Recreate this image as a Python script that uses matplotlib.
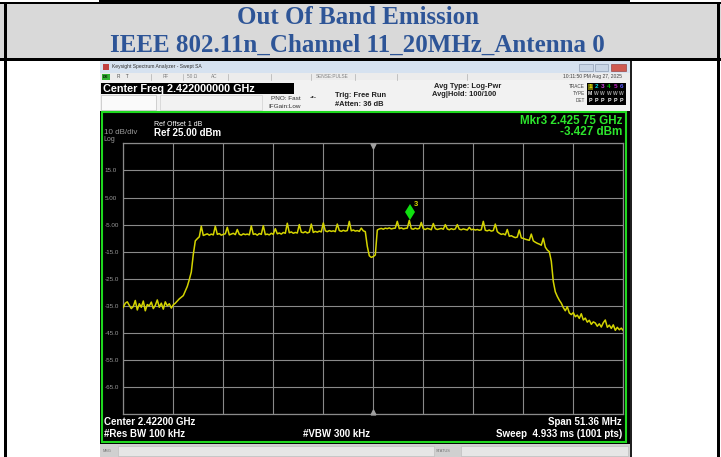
import numpy as np
import matplotlib.pyplot as plt
from matplotlib.patches import Rectangle
from matplotlib.transforms import offset_copy

# analyzer settings
center_mhz = 2422.0
span_mhz = 51.36
ref_level = 25.0
db_per_div = 10
n_div = 10

# trace 1, log-pwr average left to right
level_dbm = [
    -35.5, -34.0, -33.5, -34.8, -36.0, -35.2, -33.0, -36.5, -34.2, -35.5,
    -33.2, -36.8, -34.5, -35.0, -33.6, -36.0, -34.8, -32.8, -35.5, -34.0,
    -36.2, -33.5, -35.0, -34.2, -35.8, -34.6,
    -34.0, -33.2, -32.4, -31.8, -31.2, -29.5, -27.8, -25.3, -22.5, -16.0,
    -11.0, -10.2, -9.5, -5.6,
    -9.0, -8.7, -8.4, -8.9, -8.5, -8.8, -5.6, -8.6, -8.3, -8.9,
    -8.6, -8.4, -6.0, -8.8, -8.5, -8.2, -8.7, -6.8, -8.6, -8.9,
    -8.4, -8.7, -8.5, -8.8, -5.5, -8.6, -8.4, -8.9, -8.3, -8.6,
    -5.4, -8.7, -8.5, -8.8, -8.2, -8.6, -6.5, -8.4, -8.1, -8.5,
    -7.9, -8.2, -4.5, -8.0, -7.7, -8.2, -7.9, -8.1, -5.0, -7.8,
    -8.0, -7.6, -8.1, -7.8, -4.8, -7.9, -7.5, -7.8, -7.4, -7.7,
    -4.4, -7.3, -7.6, -7.2, -7.5, -7.3, -7.6, -4.8, -7.2, -7.5,
    -7.1, -7.4, -7.2, -3.8, -7.3, -7.0, -7.4, -7.2, -7.5, -6.3,
    -7.3, -7.6,
    -13.0, -16.5, -17.1, -16.8, -16.2, -7.0,
    -6.6, -6.4, -6.7, -6.3, -6.5, -6.2, -6.6, -6.4, -6.3, -3.8,
    -6.5, -6.2, -6.6, -6.4, -6.3, -3.43, -6.5, -6.7, -6.3, -6.6,
    -6.4, -4.2, -6.5, -6.8, -6.4, -6.6, -6.9, -4.6, -6.5, -6.8,
    -6.6, -6.4, -6.7, -5.0, -6.6, -6.9, -6.5, -6.8, -6.6, -5.0,
    -6.7, -6.9, -6.6, -6.8, -7.0, -6.0, -6.9, -6.7, -7.0, -6.8,
    -7.1, -6.9, -3.8, -7.1, -7.3, -7.0, -7.4, -7.2, -4.8, -7.6,
    -8.2, -8.6, -8.4, -8.8, -6.8, -9.3, -9.1, -9.5, -9.8, -9.6,
    -7.0, -9.9, -10.1, -10.4, -10.6, -10.8, -8.5, -11.0, -11.5, -11.9,
    -12.2, -12.6, -10.0, -13.3, -14.4, -15.0, -18.5, -26.0, -29.8, -31.5,
    -32.9, -34.0, -35.6, -36.8, -35.3, -37.6, -38.2, -37.5, -39.0, -38.4,
    -39.6, -37.9, -40.2, -39.5, -41.0, -40.3, -41.8, -40.9, -41.3, -42.5,
    -41.6, -42.8, -41.2, -40.2, -42.9, -42.1, -43.3, -42.0, -44.0, -42.9,
    -43.8, -43.2, -44.1,
]

# marker 3
mkr_freq_mhz = 2425.75
mkr_level = -3.427

ytick_labels = ['', '-65.0', '-55.0', '-45.0', '-35.0', '-25.0', '-15.0',
                '-5.00', '5.00', '15.0', '']

trace_nums = ['1', '2', '3', '4', '5', '6']
trace_num_colors = ['#e8e800', '#00d8d8', '#d040e0', '#00c000', '#c020c0', '#5a5aff']

title_1 = 'Out Of Band Emission'
title_2 = 'IEEE 802.11n_Channel 11_20MHz_Antenna 0'

SANS = 'Liberation Sans'


def box(ax, x0, y0, x1, y1, fc, ec='none', lw=0.0, z=1):
    ax.add_patch(Rectangle((x0, y0), x1 - x0, y1 - y0, facecolor=fc,
                           edgecolor=ec, linewidth=lw, zorder=z))


def txt(ax, x, y, s, size, color='black', ha='left', bold=False, family=SANS, z=5):
    ax.text(x, y, s, fontsize=size, color=color, ha=ha, va='center',
            fontweight='bold' if bold else 'normal', family=family, zorder=z)


fig = plt.figure(figsize=(7.21, 4.57), dpi=100)

# pixel canvas for the document table and the analyzer window
bg = fig.add_axes([0, 0, 1, 1])
bg.set_xlim(0, 721)
bg.set_ylim(457, 0)
bg.axis('off')

# ---- document table header ----
box(bg, 99, 0, 630, 2, 'black')
box(bg, 0, 2, 721, 3.5, 'black')
box(bg, 0, 3.5, 721, 58, '#d9d9d9')
box(bg, 0, 58, 721, 60.5, 'black')
box(bg, 3.5, 2, 6.5, 457, 'black', z=3)
box(bg, 717, 2, 720, 457, 'black', z=3)
bg.text(358, 18, title_1, fontsize=18, color='#2e5597', ha='center', va='center',
        fontweight='bold', family='Liberation Serif')
bg.text(357, 45, title_2, fontsize=18, color='#2e5597', ha='center', va='center',
        fontweight='bold', family='Liberation Serif')

# ---- analyzer window ----
box(bg, 100, 61, 632, 457, '#c8c8c8')
box(bg, 630, 61, 632, 457, '#202020')
box(bg, 100, 61, 630, 73, '#d6e2f0')
box(bg, 102.5, 64, 108.5, 69.5, '#c04040')
txt(bg, 112, 66.5, 'Keysight Spectrum Analyzer - Swept SA', 3.6, '#303030')
box(bg, 579, 64, 593, 71, '#c9d6e6', '#7f8fa6', 0.4)
box(bg, 595, 64, 608, 71, '#c9d6e6', '#7f8fa6', 0.4)
box(bg, 610.5, 64, 626, 71, '#cf5a50', '#8a3030', 0.4)

# status row
box(bg, 100, 73, 630, 80, '#ececec')
for sx in [150.7, 182.8, 228, 270.6, 311, 355, 397, 466.5]:
    bg.plot([sx, sx], [73.5, 79.5], color='#b0b0b0', lw=0.5)
box(bg, 102, 74, 110, 79.5, '#30b030')
txt(bg, 103, 76.8, 'LXI', 2.4, 'black', bold=True)
txt(bg, 117, 76.8, 'R    T', 3.4, '#505050')
txt(bg, 162.5, 76.8, 'RF', 3.4, '#808080')
txt(bg, 187, 76.8, '50 Ω', 3.4, '#808080')
txt(bg, 211, 76.8, 'AC', 3.4, '#808080')
txt(bg, 316, 76.8, 'SENSE:PULSE', 3.4, '#808080')
txt(bg, 622, 76.8, '10:11:50 PM Aug 27, 2025', 3.6, '#404040', ha='right')

# settings panel
box(bg, 100, 80, 630, 111, '#f2f2f2')
box(bg, 100.5, 83, 294, 93.8, 'black')
txt(bg, 103, 88.6, 'Center Freq 2.422000000 GHz', 7.8, 'white', bold=True)
box(bg, 101, 95, 156, 110, '#fafafa', '#c0c0c0', 0.5)
box(bg, 160, 95, 262, 110, '#f2f2f2', '#d0d0d0', 0.5)
txt(bg, 270.6, 98.9, 'PNO: Fast', 4.6, '#303030')
txt(bg, 268, 106.3, 'IFGain:Low', 4.6, '#303030')
txt(bg, 309.5, 97.8, '-•-', 5, '#303030')
txt(bg, 334.8, 95.5, 'Trig: Free Run', 5.4, '#202020', bold=True)
txt(bg, 335, 104.3, '#Atten: 36 dB', 5.4, '#202020', bold=True)
txt(bg, 433.8, 87, 'Avg Type: Log-Pwr', 5.4, '#202020', bold=True)
txt(bg, 432, 95, 'Avg|Hold: 100/100', 5.4, '#202020', bold=True)
txt(bg, 585, 86.7, 'TRACE', 3.4, '#404040', ha='right')
txt(bg, 585, 93.3, 'TYPE', 3.4, '#404040', ha='right')
txt(bg, 585, 100.3, 'DET', 3.4, '#404040', ha='right')
box(bg, 586.7, 83.3, 625.5, 104.5, 'black')
box(bg, 587.5, 84, 592.5, 90, '#707000')
for k, (num, col) in enumerate(zip(trace_nums, trace_num_colors)):
    nx = 590 + k * 6.3
    bg.text(nx, 87, num, fontsize=4.6, color=col, ha='center', va='center',
            fontweight='bold', family=SANS, zorder=6)
    bg.text(nx, 93.6, 'M' if k == 0 else 'W', fontsize=3.6,
            color='white' if k == 0 else '#a0a0a0', ha='center', va='center',
            fontweight='bold', family=SANS, zorder=6)
    bg.text(nx, 100.3, 'P', fontsize=3.8, color='white', ha='center', va='center',
            fontweight='bold', family=SANS, zorder=6)

# display area
box(bg, 100, 110.5, 630, 444, 'black')
box(bg, 102, 112, 626, 442, 'black', '#1fd81f', 1.5, z=2)
txt(bg, 154, 124.2, 'Ref Offset 1 dB', 5.0, 'white')
txt(bg, 154, 133.2, 'Ref 25.00 dBm', 7.0, 'white', bold=True)
txt(bg, 103.5, 132.6, '10 dB/div', 5.8, '#9a9a9a')
txt(bg, 103.5, 139.6, 'Log', 5.0, '#9a9a9a')
txt(bg, 622, 120.6, 'Mkr3 2.425 75 GHz', 8.4, '#2de62d', ha='right', bold=True)
txt(bg, 622, 132.0, '-3.427 dBm', 8.4, '#2de62d', ha='right', bold=True)
txt(bg, 104, 422, 'Center 2.42200 GHz', 7.0, 'white', bold=True)
txt(bg, 622, 422, 'Span 51.36 MHz', 7.0, 'white', ha='right', bold=True)
txt(bg, 104, 434, '#Res BW 100 kHz', 7.0, 'white', bold=True)
txt(bg, 302.7, 434, '#VBW 300 kHz', 7.0, 'white', bold=True)
txt(bg, 622, 434, 'Sweep  4.933 ms (1001 pts)', 7.0, 'white', ha='right', bold=True)

# message / status bar
box(bg, 100, 444, 630, 457, '#d0d0d0')
box(bg, 117.5, 446, 434, 456, '#e6e6e6', '#b8b8b8', 0.4)
box(bg, 461, 446, 628, 456, '#e6e6e6', '#b8b8b8', 0.4)
txt(bg, 103, 451, 'MSG', 2.8, '#707070')
txt(bg, 436, 451, 'STATUS', 2.8, '#707070')

# ---- graticule + trace ----
f_start = center_mhz - span_mhz / 2
f_stop = center_mhz + span_mhz / 2
freq_mhz = np.linspace(f_start, f_stop, len(level_dbm))
y_bottom = ref_level - db_per_div * n_div

ax = fig.add_axes([123.3 / 721, (457 - 414.3) / 457, 500 / 721, 271 / 457])
ax.set_facecolor('black')
ax.set_xlim(f_start, f_stop)
ax.set_ylim(y_bottom, ref_level)
ax.set_xticks(np.linspace(f_start, f_stop, n_div + 1))
ax.set_yticks(np.arange(y_bottom, ref_level + 1, db_per_div))
ax.set_yticklabels(ytick_labels)
ax.tick_params(length=0, labelbottom=False, pad=13.2)
for lab in ax.get_yticklabels():
    lab.set_horizontalalignment('left')
    lab.set_color('#9a9a9a')
    lab.set_fontsize(4.5)
    lab.set_family(SANS)
ax.grid(True, color='#8a8a8a', linewidth=0.8)
for sp in ax.spines.values():
    sp.set_color('#8a8a8a')
    sp.set_linewidth(0.9)

ax.plot(freq_mhz, level_dbm, color='#d4d400', linewidth=1.1, zorder=3)

# center-frequency pointers
ax.plot([center_mhz], [ref_level], marker='v', color='#a0a0a0', markersize=3.5,
        clip_on=False, zorder=4,
        transform=offset_copy(ax.transData, fig=fig, y=-2, units='points'))
ax.plot([center_mhz], [y_bottom], marker='^', color='#a0a0a0', markersize=3.5,
        clip_on=False, zorder=4,
        transform=offset_copy(ax.transData, fig=fig, y=2, units='points'))

# marker 3 diamond sitting on the peak
mk_tr = offset_copy(ax.transData, fig=fig, y=6, units='points')
ax.plot([mkr_freq_mhz], [mkr_level], marker='d', color='#10e010', markersize=8,
        markeredgewidth=0, transform=mk_tr, zorder=5)
ax.annotate('3', (mkr_freq_mhz, mkr_level), xytext=(3, 9), textcoords='offset points',
            color='#d8d800', fontsize=5.5, fontweight='bold', family=SANS,
            va='bottom', ha='left', zorder=5)

fig.savefig('out.png', dpi=100)
